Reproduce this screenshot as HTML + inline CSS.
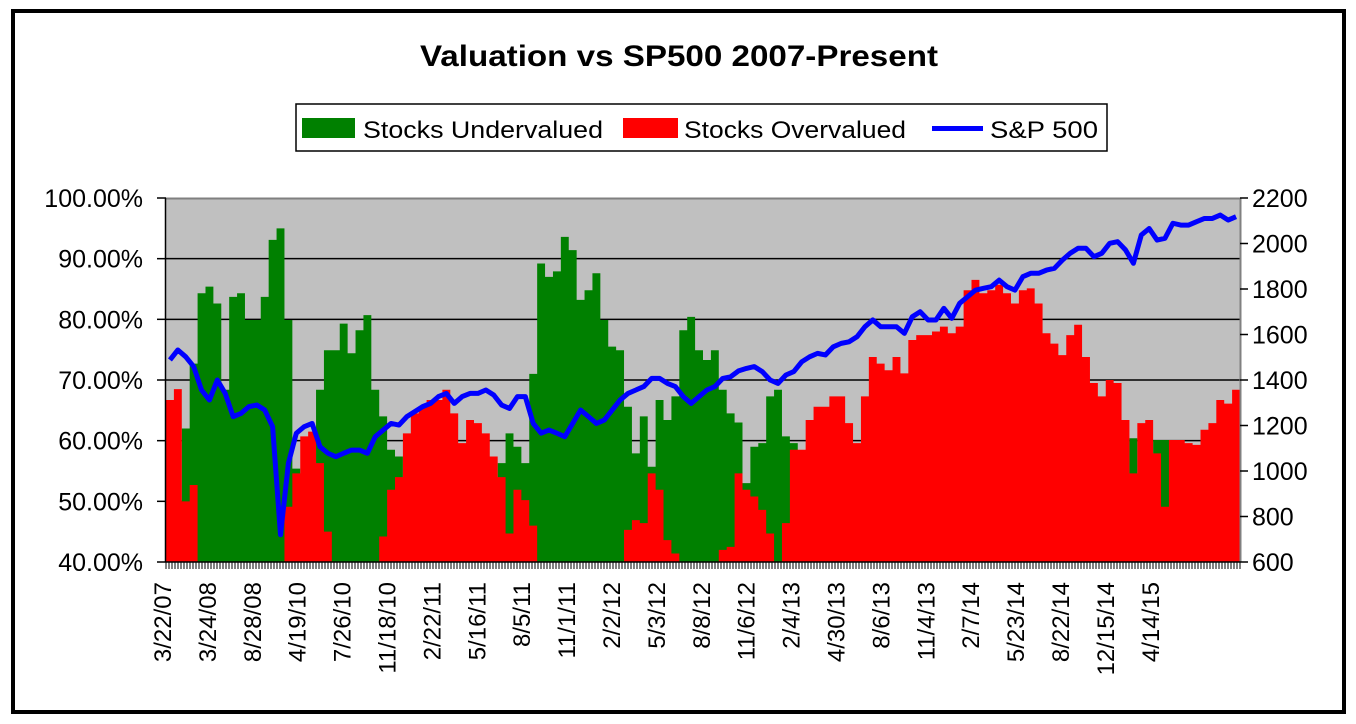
<!DOCTYPE html>
<html><head><meta charset="utf-8">
<style>
html,body{margin:0;padding:0;background:#fff;}
svg{display:block;font-family:"Liberation Sans",Arial,sans-serif;}
</style></head>
<body>
<svg id="chart" width="1356" height="724" viewBox="0 0 1356 724" xmlns="http://www.w3.org/2000/svg">
  <rect x="13" y="11" width="1331" height="701" fill="#fff" stroke="#000" stroke-width="4"/>
  <text x="420" y="66" font-size="30" font-weight="bold" textLength="518" lengthAdjust="spacingAndGlyphs">Valuation vs SP500 2007-Present</text>
  <g>
    <rect x="296" y="104" width="811" height="47" fill="#fff" stroke="#000" stroke-width="1.5"/>
    <g>
      <rect x="302" y="118" width="53" height="20" fill="#008000"/>
      <text x="363" y="138" font-size="24" textLength="240" lengthAdjust="spacingAndGlyphs">Stocks Undervalued</text>
    </g>
    <g>
      <rect x="623" y="118" width="55" height="20" fill="#ff0000"/>
      <text x="684" y="138" font-size="24" textLength="222" lengthAdjust="spacingAndGlyphs">Stocks Overvalued</text>
    </g>
    <g>
      <rect x="932" y="126" width="51" height="5" fill="#0000ff"/>
      <text x="990" y="138" font-size="24" textLength="108" lengthAdjust="spacingAndGlyphs">S&amp;P 500</text>
    </g>
  </g>
  <rect x="166" y="198" width="1074" height="364" fill="#c0c0c0"/>
  <line x1="166" y1="198.5" x2="1240" y2="198.5" stroke="#808080" stroke-width="2"/>
  <g id="grid"></g>
  <g id="bars"></g>
  <g id="line"></g>
  <g id="axes"></g>
</svg>
<script>
const xLabels = ["3/22/07","3/24/08","8/28/08","4/19/10","7/26/10","11/18/10","2/22/11","5/16/11","8/5/11","11/1/11","2/2/12","5/3/12","8/8/12","11/6/12","2/4/13","4/30/13","8/6/13","11/4/13","2/7/14","5/23/14","8/22/14","12/15/14","4/14/15"];
const leftTicks = [40,50,60,70,80,90,100];
const rightTicks = [600,800,1000,1200,1400,1600,1800,2000,2200];
const undervalued = [
40,40,62,72.7,84.3,85.4,82.6,68.4,83.7,84.3,
79.9,79.9,83.7,93.1,95,79.9,55.4,40,40,68.4,
74.9,74.9,79.3,74.4,78.2,80.7,68.4,64,58.5,57.4,
40,40,40,40,40,40,40,40,40,40,
40,40,56.3,61.2,59,56.3,71,89.2,87,87.9,
93.6,91.4,83.2,84.8,87.6,79.9,75.5,74.9,65.6,57.9,
64,55.7,66.7,63.4,67.3,78.2,80.4,74.9,73.3,74.9,
68.4,64.5,63,53,59,59.6,67.3,68.4,60.7,59.6,
40,40,40,40,40,40,40,40,40,40,
40,40,40,40,40,40,40,40,40,40,
40,40,40,40,40,40,40,40,40,40,
40,40,40,40,40,40,40,40,40,40,
40,40,60.4,40,40,60.1,60.1,60.1,40,40,
40,40,40,40,40,40];
const overvalued = [
66.7,68.5,50,52.7,40,40,40,40,40,40,
40,40,40,40,40,49.1,54.6,60.7,61.5,56.3,
45,40,40,40,40,40,40,44.2,51.9,54,
61.2,64.5,65.6,66.7,66.7,68.4,64.5,59.6,63.4,62.9,
61.2,57.4,54,44.7,51.9,50.2,46,40,40,40,
40,40,40,40,40,40,40,40,45.3,46.9,
46.4,54.6,51.9,43.6,41.4,40,40,40,40,40,
42,42.5,54.6,51.9,50.8,48.6,44.7,40,46.4,58.5,
58.5,63.4,65.6,65.6,67.3,67.3,62.9,59.6,67.3,73.8,
72.7,71.6,73.8,71.1,76.6,77.4,77.4,78,78.8,77.7,
78.8,84.8,86.5,84.3,84.8,85.7,84.3,82.6,84.8,85.1,
82.6,77.7,76,74.1,77.4,79.1,73.8,69.5,67.3,70,
69.5,63.4,54.6,62.9,63.4,57.9,49.1,60.1,60.1,59.6,
59.3,61.8,62.9,66.7,66.1,68.4];
const sp500 = [
1488,1532,1502,1459,1356,1312,1400,1341,1239,1253,
1283,1290,1268,1195,720,1034,1166,1195,1209,1107,
1078,1063,1078,1092,1092,1078,1151,1180,1209,1202,
1239,1261,1283,1297,1327,1341,1297,1327,1341,1341,
1356,1334,1290,1275,1327,1327,1209,1166,1180,1166,
1151,1209,1268,1239,1209,1224,1268,1312,1341,1356,
1371,1407,1407,1385,1371,1327,1297,1327,1356,1371,
1407,1414,1440,1451,1459,1437,1400,1385,1422,1437,
1480,1502,1517,1510,1546,1561,1568,1590,1634,1664,
1634,1634,1634,1605,1678,1700,1664,1664,1715,1671,
1737,1766,1795,1803,1810,1839,1810,1795,1854,1869,
1869,1883,1891,1927,1957,1979,1979,1942,1957,2001,
2008,1972,1913,2037,2066,2015,2023,2089,2081,2081,
2096,2110,2110,2125,2103,2118];

const NS='http://www.w3.org/2000/svg';
const PL=166, PR=1240, PT=198, PB=562;
const N = Math.max(undervalued.length, overvalued.length, sp500.length);
const bw = (PR-PL)/N;
function xPos(i){ return PL + i*bw; }
function yLeft(v){ return PB - (v-40)/60*(PB-PT); }
function yRight(v){ return PB - (v-600)/1600*(PB-PT); }
function mk(tag, parent){ const e=document.createElementNS(NS,tag); parent.appendChild(e); return e; }

const grid=document.getElementById('grid');
leftTicks.forEach(function(t){
  if(t===40||t===100) return;
  const l=mk('line',grid);
  
  
  l.setAttribute('x1',PL); l.setAttribute('x2',PR);
  l.setAttribute('y1',yLeft(t)); l.setAttribute('y2',yLeft(t));
  l.setAttribute('stroke','#000'); l.setAttribute('stroke-width','1.5');
});

function stepPath(arr){
  let d='M'+PL+','+PB;
  for(let i=0;i<arr.length;i++){
    const y=yLeft(arr[i]);
    d+=' L'+xPos(i).toFixed(2)+','+y.toFixed(2)+' L'+xPos(i+1).toFixed(2)+','+y.toFixed(2);
  }
  d+=' L'+xPos(arr.length).toFixed(2)+','+PB+' Z';
  return d;
}
const bars=document.getElementById('bars');
const g1=mk('path',bars);


g1.setAttribute('d',stepPath(undervalued)); g1.setAttribute('fill','#008000');
const r1=mk('path',bars);


r1.setAttribute('d',stepPath(overvalued)); r1.setAttribute('fill','#ff0000');

const lineG=document.getElementById('line');
let pts=sp500.map(function(v,i){ return (xPos(i)+bw/2).toFixed(2)+','+yRight(v).toFixed(2); }).join(' ');
const pl=mk('polyline',lineG);


pl.setAttribute('points',pts); pl.setAttribute('fill','none');
pl.setAttribute('stroke','#0000ff'); pl.setAttribute('stroke-width','5'); pl.setAttribute('stroke-linejoin','round');

const axes=document.getElementById('axes');
function line(x1,y1,x2,y2,w,name,col){
  const l=mk('line',axes);
  
  
  l.setAttribute('x1',x1);l.setAttribute('y1',y1);l.setAttribute('x2',x2);l.setAttribute('y2',y2);
  l.setAttribute('stroke',col||'#000');l.setAttribute('stroke-width',w);
}
line(165.5,PT,165.5,PB,1.5,'left-axis-line');
line(1240.5,PT,1240.5,PB,2,'right-axis-line','#808080');
line(PL,PB,PR,PB,1.5,'x-axis-line');
leftTicks.forEach(function(t){
  line(157,yLeft(t),166,yLeft(t),1.5,'left-tick');
  const tx=mk('text',axes);
  
  
  tx.setAttribute('x',143); tx.setAttribute('y',yLeft(t)+9);
  tx.setAttribute('text-anchor','end'); tx.setAttribute('font-size','25');
  tx.textContent=t.toFixed(2)+'%';
});
rightTicks.forEach(function(t){
  line(1240,yRight(t),1248,yRight(t),1.5,'right-tick');
  const tx=mk('text',axes);
  
  
  tx.setAttribute('x',1252); tx.setAttribute('y',yRight(t)+9);
  tx.setAttribute('font-size','25');
  tx.textContent=t;
});
let td='';
for(let x=PL; x<=PR; x+=3){ td+='M'+x+','+PB+' L'+x+','+(PB+7)+' '; }
const tk=mk('path',axes);


tk.setAttribute('d',td); tk.setAttribute('stroke','#000'); tk.setAttribute('stroke-width','1');
xLabels.forEach(function(lab,k){
  const cx=163+k*44.9;
  const tx=mk('text',axes);
  
  
  tx.setAttribute('transform','translate('+(cx+8)+',582) rotate(-90)');
  tx.setAttribute('text-anchor','end'); tx.setAttribute('font-size','24');
  tx.textContent=lab;
});
</script>
</body></html>
